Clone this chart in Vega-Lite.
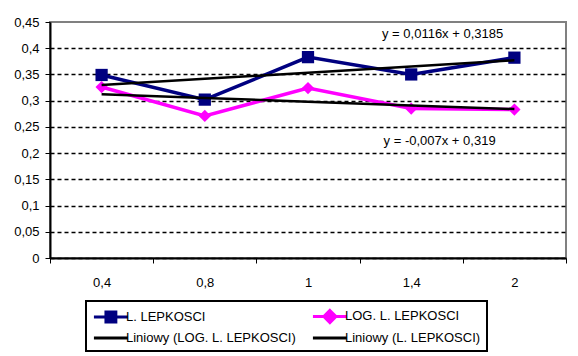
{
  "$schema": "https://vega.github.io/schema/vega-lite/v6.json",
  "autosize": "none",
  "padding": {"left": 50, "top": 22, "right": 12, "bottom": 98},
  "width": 516,
  "height": 236,
  "background": "white",
  "datasets": {
    "main": [
      {"cat": "0,4", "series": "L. LEPKOSCI", "value": 0.349},
      {"cat": "0,8", "series": "L. LEPKOSCI", "value": 0.302},
      {"cat": "1", "series": "L. LEPKOSCI", "value": 0.383},
      {"cat": "1,4", "series": "L. LEPKOSCI", "value": 0.350},
      {"cat": "2", "series": "L. LEPKOSCI", "value": 0.382},
      {"cat": "0,4", "series": "LOG. L. LEPKOSCI", "value": 0.326},
      {"cat": "0,8", "series": "LOG. L. LEPKOSCI", "value": 0.271},
      {"cat": "1", "series": "LOG. L. LEPKOSCI", "value": 0.324},
      {"cat": "1,4", "series": "LOG. L. LEPKOSCI", "value": 0.285},
      {"cat": "2", "series": "LOG. L. LEPKOSCI", "value": 0.283}
    ],
    "trend": [
      {"cat": "0,4", "series": "Liniowy (L. LEPKOSCI)", "value": 0.330},
      {"cat": "0,8", "series": "Liniowy (L. LEPKOSCI)", "value": 0.342},
      {"cat": "1", "series": "Liniowy (L. LEPKOSCI)", "value": 0.353},
      {"cat": "1,4", "series": "Liniowy (L. LEPKOSCI)", "value": 0.365},
      {"cat": "2", "series": "Liniowy (L. LEPKOSCI)", "value": 0.377},
      {"cat": "0,4", "series": "Liniowy (LOG. L. LEPKOSCI)", "value": 0.312},
      {"cat": "0,8", "series": "Liniowy (LOG. L. LEPKOSCI)", "value": 0.305},
      {"cat": "1", "series": "Liniowy (LOG. L. LEPKOSCI)", "value": 0.298},
      {"cat": "1,4", "series": "Liniowy (LOG. L. LEPKOSCI)", "value": 0.291},
      {"cat": "2", "series": "Liniowy (LOG. L. LEPKOSCI)", "value": 0.284}
    ],
    "notes": [
      {"cat": "1,4", "value": 0.427, "label": "y = 0,0116x + 0,3185", "shift": 83},
      {"cat": "1,4", "value": 0.223, "label": "y = -0,007x + 0,319", "shift": 80}
    ]
  },
  "config": {
    "font": "Liberation Sans",
    "view": {"stroke": "#808080", "strokeWidth": 2},
    "axis": {
      "labelFont": "Liberation Sans",
      "labelFontSize": 13,
      "labelColor": "black",
      "domainColor": "black",
      "domainWidth": 2,
      "tickColor": "black",
      "tickWidth": 1,
      "tickSize": 5,
      "title": null
    }
  },
  "encoding": {
    "x": {
      "field": "cat",
      "type": "ordinal",
      "sort": ["0,4", "0,8", "1", "1,4", "2"],
      "scale": {"paddingInner": 0, "paddingOuter": 0},
      "axis": {"labelAngle": 0, "tickBand": "extent", "labelPadding": 13, "grid": false}
    },
    "y": {
      "field": "value",
      "type": "quantitative",
      "scale": {"domain": [0, 0.45], "nice": false, "zero": true},
      "axis": {
        "values": [0, 0.05, 0.1, 0.15, 0.2, 0.25, 0.3, 0.35, 0.4, 0.45],
        "labelExpr": "replace(format(datum.value, '.2~f'), '.', ',')",
        "labelPadding": 6,
        "grid": true,
        "gridColor": "black",
        "gridDash": [4, 3],
        "gridWidth": 1.5,
        "gridOpacity": {"condition": {"test": "datum.value > 0.44", "value": 0}, "value": 1}
      }
    }
  },
  "layer": [
    {
      "data": {"name": "main"},
      "mark": {"type": "line", "strokeWidth": 3.5},
      "encoding": {
        "color": {
          "field": "series",
          "type": "nominal",
          "scale": {
            "domain": ["L. LEPKOSCI", "LOG. L. LEPKOSCI", "Liniowy (LOG. L. LEPKOSCI)", "Liniowy (L. LEPKOSCI)"],
            "range": ["#000080", "#FF00FF", "#000000", "#000000"]
          },
          "legend": {
            "title": null,
            "orient": "none",
            "direction": "horizontal",
            "legendX": 36,
            "legendY": 279,
            "columns": 2,
            "columnPadding": 10,
            "rowPadding": 0,
            "gridAlign": "all",
            "padding": 6,
            "strokeColor": "black",
            "fillColor": "white",
            "labelFont": "Liberation Sans",
            "labelFontSize": 13,
            "labelColor": "black",
            "labelLimit": 300,
            "labelOffset": 16,
            "symbolSize": 200,
            "symbolStrokeWidth": 3,
            "encode": {
              "legend": {"update": {"strokeWidth": {"value": 2}}},
              "symbols": {
                "update": {
                  "shape": {"signal": "datum.value == 'L. LEPKOSCI' ? 'M-1,0H3.8M0.7,-0.7H2.1V0.7H0.7Z' : datum.value == 'LOG. L. LEPKOSCI' ? 'M-1,0H3.8M1.4,-0.85L2.25,0L1.4,0.85L0.55,0Z' : 'M-1,0H3.8'"},
                  "fill": {"signal": "scale('color', datum.value)"},
                  "stroke": {"signal": "scale('color', datum.value)"},
                  "strokeWidth": {"value": 3},
                  "opacity": {"value": 1}
                }
              }
            }
          }
        }
      }
    },
    {
      "data": {"name": "main"},
      "mark": {"type": "point", "filled": true, "opacity": 1, "size": 150},
      "encoding": {
        "color": {"field": "series", "type": "nominal"},
        "shape": {
          "field": "series",
          "type": "nominal",
          "scale": {"domain": ["L. LEPKOSCI", "LOG. L. LEPKOSCI"], "range": ["square", "diamond"]},
          "legend": null
        }
      }
    },
    {
      "data": {"name": "trend"},
      "mark": {"type": "line", "strokeWidth": 2.5},
      "encoding": {
        "color": {"field": "series", "type": "nominal"}
      }
    },
    {
      "data": {"name": "notes"},
      "mark": {"type": "text", "font": "Liberation Sans", "fontSize": 13, "color": "black", "align": "center", "baseline": "middle"},
      "encoding": {
        "text": {"field": "label"},
        "xOffset": {"field": "shift", "type": "quantitative", "scale": null}
      }
    }
  ]
}
